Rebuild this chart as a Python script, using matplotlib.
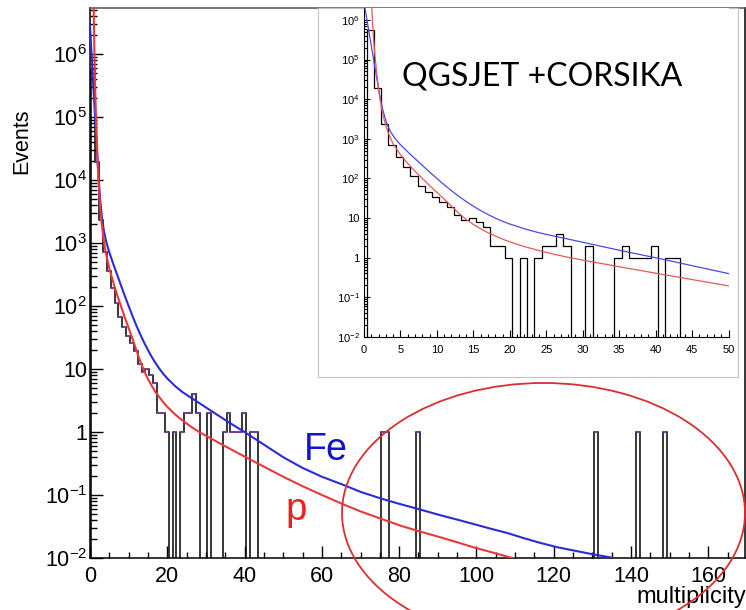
import numpy as np
import matplotlib
matplotlib.use('Agg')
import matplotlib.pyplot as plt
from matplotlib.patches import Ellipse, Rectangle
from matplotlib.ticker import FixedLocator, MultipleLocator, LogLocator, NullFormatter, FixedFormatter

plt.rcParams['font.family'] = ['Liberation Sans', 'DejaVu Sans']
plt.rcParams['mathtext.fontset'] = 'custom'
plt.rcParams['mathtext.rm'] = 'Liberation Sans'
plt.rcParams['mathtext.it'] = 'Liberation Sans:italic'
plt.rcParams['mathtext.bf'] = 'Liberation Sans:bold'

# ---------------- data ----------------
multiplicity = np.array([1, 2, 3, 4, 5, 6, 7, 8, 9, 10,
                         11, 12, 13, 14, 15, 16, 17, 18, 19, 20,
                         22, 24, 25, 26, 27, 28, 31, 35, 36, 37,
                         38, 39, 40, 42, 43, 76, 77, 85, 131, 142, 149])
events = np.array([5.6e5, 1.9e4, 2.3e3, 710, 355, 190, 112, 66, 46, 34,
                   26, 19, 12, 9, 10, 8, 6, 2, 2, 1,
                   1, 1, 2, 2, 4, 2, 2, 1, 2, 1,
                   1, 1, 2, 1, 1, 1, 1, 1, 1, 1, 1])

# Fe curve: multiplicity and log10(events)
fe_x = [0.0, 0.37, 0.82, 1.28, 1.74, 2.2, 2.65, 3.1, 3.57, 4.2, 4.9, 6, 7, 8, 9, 10,
        11, 12, 13, 14, 15, 16, 17, 18, 19, 20, 22, 24, 26, 28, 30, 33, 36, 40,
        45, 50, 55, 60, 65.6, 70, 75, 80, 85.4, 90.6, 95, 99.2, 104, 107.8, 112,
        116.5, 121, 125.1, 130, 133.7, 140]
fe_log = [6.45, 6.04, 5.54, 5.04, 4.54, 4.05, 3.68, 3.4, 3.2, 3.02, 2.87, 2.67, 2.5, 2.33, 2.16, 2.0,
          1.84, 1.69, 1.55, 1.42, 1.3, 1.19, 1.09, 1.0, 0.92, 0.85, 0.73, 0.63, 0.55, 0.47, 0.39, 0.27, 0.15, 0.0,
          -0.2, -0.4, -0.57, -0.71, -0.84, -0.95, -1.05, -1.14, -1.23, -1.32, -1.39, -1.46, -1.54, -1.6, -1.68,
          -1.76, -1.83, -1.88, -1.94, -1.98, -2.05]

# p curve: multiplicity and log10(events)
p_x = [0.85, 0.95, 1.05, 1.15, 1.28, 1.5, 1.75, 2.0, 2.3, 2.6, 3.0, 3.5, 4.0, 5, 6, 7, 8, 9, 10,
       11, 12, 13, 14, 15, 16, 17, 18, 19, 20, 22, 24, 26, 28, 30, 33, 36, 40, 45, 50,
       55, 60, 65.6, 70, 75.9, 80, 85.4, 90.6, 95, 99.2, 104, 108.7, 115]
p_log = [7.0, 6.75, 6.37, 6.0, 5.6, 5.1, 4.65, 4.25, 3.88, 3.6, 3.32, 3.07, 2.87, 2.6, 2.38, 2.18, 2.0, 1.82, 1.65,
         1.48, 1.3, 1.12, 0.97, 0.84, 0.73, 0.63, 0.55, 0.47, 0.4, 0.28, 0.18, 0.09, 0.01, -0.06, -0.16, -0.26, -0.39, -0.55, -0.71,
         -0.86, -1.0, -1.15, -1.26, -1.39, -1.48, -1.58, -1.67, -1.75, -1.83, -1.91, -1.99, -2.09]

main_xticks = [0, 20, 40, 60, 80, 100, 120, 140, 160]
main_xticklabels = ['0', '20', '40', '60', '80', '100', '120', '140', '160']
yticks = [1e-2, 1e-1, 1, 10, 1e2, 1e3, 1e4, 1e5, 1e6]
yticklabels = [r'$\mathregular{10^{-2}}$', r'$\mathregular{10^{-1}}$', '1', '10',
               r'$\mathregular{10^{2}}$', r'$\mathregular{10^{3}}$', r'$\mathregular{10^{4}}$',
               r'$\mathregular{10^{5}}$', r'$\mathregular{10^{6}}$']
inset_xticks = [0, 5, 10, 15, 20, 25, 30, 35, 40, 45, 50]
inset_xticklabels = ['0', '5', '10', '15', '20', '25', '30', '35', '40', '45', '50']

fe_y = 10 ** np.array(fe_log)
p_y = 10 ** np.array(p_log)

# ---------------- figure ----------------
W, H = 746, 610
fig = plt.figure(figsize=(W / 100, H / 100), dpi=100)


def fx(px):
    return px / W


def fy(py):
    return 1 - py / H


# full histogram arrays built from the sparse values
nbins = 170
counts = np.zeros(nbins)
counts[multiplicity - 1] = events
centers = np.arange(1, nbins + 1)
edges = np.append(centers - 0.65, centers[-1] + 0.35)
draw_counts = np.where(counts > 0, counts, 1e-6)

# ---------------- main axes ----------------
ax = fig.add_axes([fx(90), fy(558), (745 - 90) / W, (558 - 8) / H], zorder=0)
ax.set_yscale('log')
ax.set_xlim(0, 169.5)
ax.set_ylim(1e-2, 10 ** 6.73)

ax.stairs(draw_counts, edges, baseline=1e-6, color='black', lw=1.1, zorder=3)
ax.hlines(events, multiplicity - 0.65, multiplicity + 0.35, color='#8a3ab0', lw=1.2, zorder=4)
ax.plot(fe_x, fe_y, color='#2b2bd9', lw=1.5, zorder=5)
ax.plot(p_x, p_y, color='#e83a3a', lw=1.5, zorder=5)

ax.xaxis.set_major_locator(FixedLocator(main_xticks))
ax.xaxis.set_major_formatter(FixedFormatter(main_xticklabels))
ax.xaxis.set_minor_locator(MultipleLocator(5))
ax.yaxis.set_major_locator(FixedLocator(yticks))
ax.yaxis.set_major_formatter(FixedFormatter(yticklabels))
ax.yaxis.set_minor_locator(LogLocator(base=10, subs=np.arange(2, 10), numticks=20))
ax.yaxis.set_minor_formatter(NullFormatter())
ax.tick_params(axis='both', which='both', direction='in', top=False, right=False, color='black')
ax.tick_params(axis='x', which='major', length=8.6, width=1.0, pad=6, labelsize=15.5)
ax.tick_params(axis='x', which='minor', length=4.3, width=1.0)
ax.tick_params(axis='y', which='major', length=9.4, width=1.0, pad=2, labelsize=15.5)
ax.tick_params(axis='y', which='minor', length=5.0, width=1.0)
for s in ax.spines.values():
    s.set_linewidth(1.1)
ax.spines['top'].set_color('#555555')

# ---------------- inset pad ----------------
pad = Rectangle((fx(318), fy(377)), (738 - 318) / W, (377 - 8) / H, transform=fig.transFigure,
                facecolor='white', edgecolor='#c4c4c4', lw=0.8, zorder=1)
fig.add_artist(pad)

ins = fig.add_axes([fx(364), fy(337), (728.5 - 364) / W, (337 - 8) / H], zorder=2)
ins.set_yscale('log')
ins.set_xlim(0, 50)
ins.set_ylim(1e-2, 10 ** 6.3)
ins.stairs(draw_counts, edges, baseline=1e-6, color='black', lw=0.9, zorder=3)
ins.plot(fe_x, fe_y, color='#4a4ae0', lw=0.9, zorder=4)
ins.plot(p_x, p_y, color='#e85858', lw=0.9, zorder=4)
ins.xaxis.set_major_locator(FixedLocator(inset_xticks))
ins.xaxis.set_major_formatter(FixedFormatter(inset_xticklabels))
ins.xaxis.set_minor_locator(MultipleLocator(1))
ins.yaxis.set_major_locator(FixedLocator(yticks))
ins.yaxis.set_major_formatter(FixedFormatter(yticklabels))
ins.yaxis.set_minor_locator(LogLocator(base=10, subs=np.arange(2, 10), numticks=20))
ins.yaxis.set_minor_formatter(NullFormatter())
ins.tick_params(axis='both', which='both', direction='in', top=False, right=False)
ins.tick_params(axis='x', which='major', length=5, width=0.8, pad=6, labelsize=8)
ins.tick_params(axis='x', which='minor', length=2.5, width=0.8)
ins.tick_params(axis='y', which='major', length=4, width=0.8, pad=3, labelsize=8)
ins.tick_params(axis='y', which='minor', length=2, width=0.8)
for s in ins.spines.values():
    s.set_linewidth(0.8)
ins.spines['top'].set_visible(False)
ins.spines['right'].set_visible(False)

# ---------------- texts ----------------
fig.text(fx(402), fy(85), 'QGSJET +CORSIKA', fontsize=23, family=['Lato', 'DejaVu Sans'],
         ha='left', va='baseline', color='black', zorder=6)
fig.text(fx(22), fy(141), 'Events', fontsize=15.5, rotation=90, ha='center', va='center')
fig.text(fx(746), fy(603), 'multiplicity', fontsize=17, ha='right', va='baseline')
fig.text(fx(304), fy(460), 'Fe', fontsize=27, color='#1414d0', ha='left', va='baseline', zorder=6)
fig.text(fx(285), fy(520), 'p', fontsize=27.5, color='#e82020', ha='left', va='baseline', zorder=6)

# ---------------- annotation ellipse ----------------
ell = Ellipse((fx(543.5), fy(513)), 403 / W, 260 / H, transform=fig.transFigure,
              facecolor='none', edgecolor='#d83030', lw=1.3, zorder=7)
fig.add_artist(ell)

fig.savefig('out.png', dpi=100)
